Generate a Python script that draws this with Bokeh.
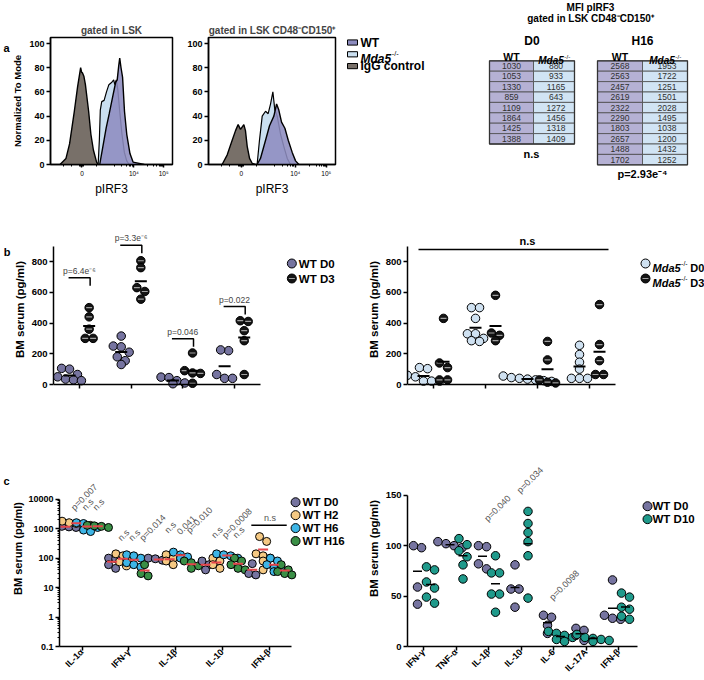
import math
import numpy as np
from bokeh.plotting import figure
from bokeh.layouts import row, column
from bokeh.models import Range1d, FixedTicker, LinearAxis, LogAxis
from bokeh.core.properties import value
from bokeh.embed import file_html
from bokeh.resources import INLINE

FONT = "Liberation Sans"

# ======================= DATA =======================
# (a) pIRF3 histograms: x = display channel, y = % of mode
hist_ticks = [264, 700, 950]
hist_tick_labels = ["0", "10⁴", "10⁵"]
hist_series = ["WT", "Mda5-/-", "IgG control"]

lsk_igg_x = [80, 130, 160, 200, 227, 248, 253, 262, 267, 280, 293, 320, 339, 360, 387, 400]
lsk_igg_y = [0, 5, 17, 44, 64, 77, 80, 76, 76, 73, 66, 44, 25, 12, 2, 0]
lsk_mda5_x = [400, 410, 418, 430, 450, 470, 490, 515, 530, 540, 552, 565, 580, 600, 620, 640, 660]
lsk_mda5_y = [0, 20, 45, 52, 53, 60, 66, 68, 70, 66, 70, 62, 45, 25, 10, 3, 0]
lsk_wt_x = [413, 440, 467, 493, 520, 547, 560, 573, 581, 592, 605, 621, 640, 667, 693, 787]
lsk_wt_y = [0, 15, 30, 42, 55, 68, 70, 82, 88, 80, 72, 44, 25, 9, 2, 0]

hsc_igg_x = [110, 151, 191, 218, 239, 258, 285, 298, 312, 331, 352, 379]
hsc_igg_y = [0, 8, 20, 28, 33, 29, 33, 28, 15, 5, 1, 0]
hsc_mda5_x = [392, 411, 433, 460, 481, 500, 519, 535, 554, 581, 607, 635, 661]
hsc_mda5_y = [0, 20, 40, 44, 42, 50, 60, 45, 40, 25, 15, 5, 0]
hsc_wt_x = [392, 419, 460, 492, 527, 549, 567, 589, 616, 643, 675, 702, 729]
hsc_wt_y = [0, 5, 20, 32, 40, 50, 45, 35, 30, 20, 10, 3, 0]

# MFI pIRF3 table
mfi_d0_wt = [1030, 1053, 1330, 859, 1109, 1864, 1425, 1388]
mfi_d0_mda5 = [880, 933, 1165, 643, 1272, 1456, 1318, 1409]
mfi_h16_wt = [2568, 2563, 2457, 2619, 2322, 2290, 1803, 2657, 1488, 1702]
mfi_h16_mda5 = [1953, 1722, 1251, 1501, 2028, 1495, 1038, 1200, 1432, 1252]

# (b) BM serum (pg/ml)
b_cats = ["IL-23", "IL-1a", "IL-10", "IL-27"]
b_wt_series = ["WT D0", "WT D3"]
b_wt_d0 = [[105, 100, 65, 50, 35, 30, 25], [315, 250, 245, 210, 180, 155, 130],
           [48, 45, 25, 10, 5], [220, 225, 40, 40, 65]]
b_wt_d3 = [[500, 440, 360, 300, 300], [805, 760, 630, 605, 555],
           [205, 90, 72, 75, 8], [415, 410, 350, 285, 65]]
b_wt_pvals = ["p=6.4e⁻⁶", "p=3.3e⁻⁶", "p=0.046", "p=0.022"]
b_mda5_series = ["D0", "D3"]
b_mda5_d0 = [[110, 103, 60, 50, 22, 22, 22], [500, 500, 430, 330, 330, 300, 285, 280],
             [55, 45, 40, 35, 30, 25, 20], [255, 195, 145, 100, 40, 40, 40]]
b_mda5_d3 = [[430, 140, 110, 30, 30], [580, 335, 320, 285],
             [280, 160, 30, 15, 10], [520, 260, 155, 65, 65]]

# (c) left: time course (log scale)
c1_cats = ["IL-1α", "IFN-γ", "IL-1β", "IL-10", "IFN-β"]
c1_series = ["WT D0", "WT H2", "WT H6", "WT H16"]
c1_d0 = [[1250, 1150, 1100, 1200], [100, 95, 60, 45], [100, 95, 85, 80], [80, 60, 40], [65, 30, 27]]
c1_h2 = [[1400, 1600, 1800, 1500, 1300], [140, 120, 90, 75, 55], [130, 100, 80, 60],
         [100, 80, 60, 45], [540, 370, 140, 120, 100, 80, 40]]
c1_h6 = [[1600, 1500, 1200, 1100, 900, 800], [130, 120, 100, 70, 60, 50], [160, 130, 110, 100],
         [140, 130, 120, 100], [100, 80, 60, 45, 40, 35]]
c1_h16 = [[1300, 1250, 1200, 1100], [60, 30, 25], [80, 70, 55, 45], [100, 80, 60, 45, 40],
          [60, 40, 35, 30, 27]]
c1_pvals = [["p=0.007", "n.s", "n.s"], ["n.s", "n.s", "p=0.014"],
            ["n.s", "0.041", "p=0.010"], ["n.s", "p=0.0008", "n.s"]]
c1_last_label = "n.s"

# (c) right: D0 vs D10
c2_cats = ["IFN-γ", "TNF-α", "IL-1β", "IL-10", "IL-6", "IL-17A", "IFN-β"]
c2_series = ["WT D0", "WT D10"]
c2_d0 = [[98, 100, 59, 42], [102, 104, 98, 100], [100, 99, 82, 77], [81, 57, 57, 39],
         [31, 29, 21, 13], [18, 16, 11, 6], [66, 31, 27, 28]]
c2_d10 = [[79, 76, 64, 58, 49, 43], [107, 101, 95, 89, 81, 67], [90, 73, 73, 52, 52, 34],
          [134, 122, 113, 104, 90, 48], [15, 13, 11, 9, 7, 5], [12, 9, 8, 7, 6, 5],
          [53, 49, 39, 37, 30, 27]]
c2_pval_cats = [2, 3, 4]
c2_pvals = ["p=0.040", "p=0.034", "p=0.0098"]

# annotation heights (positions of brackets / p-value labels)
b_bracket_levels = [695, 905, 297, 507]
b_ns_level = 878
c1_plevels = [3600, 330, 600, 410]
c1_bracket_level = 1320
c2_plevels = [122, 150, 44]

# ======================= STYLE =======================
C_D0 = "#7674a0"
C_D3 = "#141414"
C_MDA_D0 = "#cfe1f1"
C_H2 = "#f5c983"
C_H6 = "#3db5e6"
C_H16 = "#3a8f46"
C_D10 = "#1f9a8b"
C_RED = "#e6454b"
HIST_WT = "#8d8cbf"
HIST_MDA = "#cadff0"
HIST_IGG = "#787069"
TAB_WT = "#b5b1d4"
TAB_MDA = "#d1e4f4"
TXT = dict(text_font=value(FONT))


def base_fig(W, H, xr, yr, ml, mr, mt, mb, y_type="linear", title=None):
    p = figure(width=W, height=H, x_range=xr, y_range=yr, y_axis_type=y_type,
               output_backend="svg", toolbar_location=None, title=title,
               min_border_left=ml, min_border_right=mr, min_border_top=mt, min_border_bottom=mb)
    p.grid.visible = False
    p.outline_line_color = None
    for ax in p.axis:
        ax.axis_line_color = "black"
        ax.axis_line_width = 1.5
        ax.major_tick_line_color = "black"
        ax.major_tick_line_width = 1.5
        ax.major_tick_out = 4
        ax.major_tick_in = 0
        ax.minor_tick_line_color = None
        ax.major_label_text_font = FONT
        ax.major_label_text_font_style = "bold"
        ax.major_label_text_font_size = "9.5px"
        ax.major_label_text_color = "black"
        ax.major_label_standoff = 2
        ax.axis_label_text_font = FONT
        ax.axis_label_text_font_style = "bold"
        ax.axis_label_text_color = "black"
        ax.axis_label_text_font_size = "11.5px"
        ax.axis_label_standoff = 3
    return p


def letter(p, txt, yv, log=False):
    """Panel letter drawn as an outer left axis with a single labelled tick."""
    yv = round(yv, 3)
    cls = LogAxis if log else LinearAxis
    ax = cls(ticker=FixedTicker(ticks=[yv]), major_label_overrides={yv: txt})
    ax.axis_line_color = None
    ax.major_tick_line_color = None
    ax.minor_tick_line_color = None
    ax.major_tick_out = 0
    ax.major_tick_in = 0
    ax.minor_tick_out = 0
    ax.major_label_standoff = 0
    ax.major_label_text_font = FONT
    ax.major_label_text_font_size = "11px"
    ax.major_label_text_font_style = "bold"
    ax.major_label_text_color = "black"
    p.add_layout(ax, "left")


def swarm(vals, ypx, d, gap=0.95, tol=0.75):
    ys = [ypx(v) for v in vals]
    order = sorted(range(len(vals)), key=lambda k: -ys[k])
    bins = []
    for k in order:
        if bins and abs(ys[bins[-1][0]] - ys[k]) < tol * d:
            bins[-1].append(k)
        else:
            bins.append([k])
    offs = [0.0] * len(vals)
    for b in bins:
        n = len(b)
        for j, k in enumerate(b):
            offs[k] = (j - (n - 1) / 2.0) * d * gap
    return offs


def draw_points(p, cx, vals, color, sx, ypx, d, stripe=False, gap=0.95):
    offs = swarm(vals, ypx, d, gap)
    xs = [cx + o / sx for o in offs]
    p.scatter(xs, vals, size=d, fill_color=color, line_color="black", line_width=1)
    if stripe:
        p.scatter(xs, vals, marker="dash", size=d * 0.7, line_color="#a0a0a0", line_width=1.2)
    return (cx, float(np.mean(vals)))


def draw_means(p, means, size, color, lw):
    p.scatter([m[0] for m in means], [m[1] for m in means], marker="dash", size=size,
              line_color=color, line_width=lw)


def mda5_text(p, x, y, size, suffix="", center=False, xo=0.0, yo=0.0, color="black"):
    sup = round(size * 0.62, 1)
    w1 = 2.556 * size
    w2 = 0.944 * sup
    gapw = 0.3 * size if suffix else 0.0
    w3 = sum(0.722 if c.isupper() else 0.556 for c in suffix) * size
    start = xo - ((w1 + w2 + gapw + w3) / 2.0 if center else 0.0)
    common = dict(text_font=value(FONT), text_baseline="alphabetic", text_align="left",
                  text_color=color)
    p.text([x], [y], text=["Mda5"], x_offset=start, y_offset=yo,
           text_font_size=f"{size}px", text_font_style="bold italic", **common)
    p.text([x], [y], text=["-/-"], x_offset=start + w1 + 0.5, y_offset=yo - size * 0.4,
           text_font_size=f"{sup}px", text_font_style="normal", **common)
    if suffix:
        p.text([x], [y], text=[suffix], x_offset=start + w1 + w2 + gapw, y_offset=yo,
               text_font_size=f"{size}px", text_font_style="bold", **common)


# ======================= (a) histograms =======================
hist_minor = [107, 173, 240, 250, 258, 272, 280, 387, 533, 600, 640, 660, 675, 687,
              813, 867, 893, 912, 925, 935, 943]
R1_H = 200


def hist_fig(W, ml, mr, title, ylabel, igg, mda, wt):
    p = base_fig(W, R1_H, Range1d(0, 1024), Range1d(0, 105), ml, mr, 37, R1_H - 164, title=title)
    p.title.align = "center"
    p.title.text_font = FONT
    p.title.text_font_size = "10px"
    p.title.text_font_style = "bold"
    p.title.standoff = 3
    p.outline_line_color = "black"
    p.outline_line_width = 1.5
    xa, ya = p.xaxis[0], p.yaxis[0]
    xa.ticker = FixedTicker(ticks=hist_ticks, minor_ticks=hist_minor)
    xa.major_label_overrides = dict(zip(hist_ticks, hist_tick_labels))
    xa.major_label_text_font_size = "6.5px"
    xa.major_label_text_font_style = "normal"
    xa.major_tick_out = 3
    xa.minor_tick_line_color = "black"
    xa.minor_tick_out = 2
    xa.minor_tick_in = 0
    xa.axis_label = "pIRF3"
    xa.axis_label_text_font_size = "12px"
    xa.axis_label_text_font_style = "normal"
    xa.axis_label_standoff = 2
    ya.ticker = FixedTicker(ticks=[0, 20, 40, 60, 80, 100])
    ya.major_label_text_font_size = "9px"
    if ylabel:
        ya.axis_label = ylabel
        ya.axis_label_text_font_size = "9.5px"
        ya.axis_label_standoff = 3
    p.varea(x=igg[0], y1=0, y2=igg[1], fill_color=HIST_IGG)
    p.line(igg[0], igg[1], line_color="black", line_width=1.4)
    p.varea(x=mda[0], y1=0, y2=mda[1], fill_color=HIST_MDA)
    p.line(mda[0], mda[1], line_color="black", line_width=1.2)
    p.varea(x=wt[0], y1=0, y2=wt[1], fill_color=HIST_WT, fill_alpha=0.88)
    p.line(wt[0], wt[1], line_color="black", line_width=1.4)
    return p


h1 = hist_fig(180, 45, 8, "gated in LSK", "Normalized To Mode",
              (lsk_igg_x, lsk_igg_y), (lsk_mda5_x, lsk_mda5_y), (lsk_wt_x, lsk_wt_y))
letter(h1, "a", 105 * (164 - 47) / 127)
h2 = hist_fig(158, 28, 3, "gated in LSK CD48⁻CD150⁺", None,
              (hsc_igg_x, hsc_igg_y), (hsc_mda5_x, hsc_mda5_y), (hsc_wt_x, hsc_wt_y))

# ---- legend + table (pixel space) ----
pt = figure(width=366, height=R1_H, x_range=Range1d(338, 704), y_range=Range1d(R1_H, 0),
            output_backend="svg", toolbar_location=None, title=None,
            x_axis_location=None, y_axis_location=None, min_border=0)
pt.grid.visible = False
pt.outline_line_color = None

leg_cols = [HIST_WT, HIST_MDA, HIST_IGG]
for k, (lab, col) in enumerate(zip(hist_series, leg_cols)):
    yy = 42 + 11.8 * k
    pt.quad(left=347, right=357, top=yy - 2.6, bottom=yy + 2.6, fill_color=col,
            line_color="black", line_width=1)
    if lab.startswith("Mda5"):
        mda5_text(pt, 360, yy + 4.2, 12)
    else:
        pt.text([360], [yy], text=[lab], text_baseline="middle", text_align="left",
                text_font_size="12px", text_font_style="bold", **TXT)

pt.text([590], [6.5], text=["MFI pIRF3"], text_align="center", text_baseline="middle",
        text_font_size="10px", text_font_style="bold", **TXT)
pt.text([590], [18], text=["gated in LSK CD48⁻CD150⁺"], text_align="center",
        text_baseline="middle", text_font_size="10px", text_font_style="bold", **TXT)


def mfi_table(p, left, mid, right, top, rh, wt, mda, title):
    n = len(wt)
    tops = [top + k * rh for k in range(n)]
    bots = [t + rh for t in tops]
    p.quad(left=left, right=mid, top=tops, bottom=bots, fill_color=TAB_WT,
           line_color="#4a4a4a", line_width=0.8)
    p.quad(left=mid, right=right, top=tops, bottom=bots, fill_color=TAB_MDA,
           line_color="#4a4a4a", line_width=0.8)
    p.quad(left=left, right=right, top=top, bottom=top + n * rh, fill_color=None,
           line_color="#333333", line_width=1.3)
    ys = [t + rh / 2 for t in tops]
    p.text([(left + mid) / 2] * n, ys, text=[str(v) for v in wt], text_align="center",
           text_baseline="middle", text_font_size="8.5px", text_color="#303030", **TXT)
    p.text([(mid + right) / 2 + 2] * n, ys, text=[str(v) for v in mda], text_align="center",
           text_baseline="middle", text_font_size="8.5px", text_color="#303030", **TXT)
    p.text([(left + right) / 2], [top - 20], text=[title], text_align="center",
           text_baseline="middle", text_font_size="12px", text_font_style="bold", **TXT)
    p.text([(left + mid) / 2], [top - 4], text=["WT"], text_align="center",
           text_baseline="middle", text_font_size="10.5px", text_font_style="bold", **TXT)
    mda5_text(p, (mid + right) / 2, top - 0.5, 10, center=True)
    return top + n * rh


bot0 = mfi_table(pt, 489, 533, 574, 60.3, 10.4, mfi_d0_wt, mfi_d0_mda5, "D0")
bot1 = mfi_table(pt, 597, 642, 687, 60.3, 10.4, mfi_h16_wt, mfi_h16_mda5, "H16")
pt.text([531], [bot0 + 10], text=["n.s"], text_align="center", text_baseline="middle",
        text_font_size="11px", text_font_style="bold", **TXT)
pt.text([642], [bot1 + 9], text=["p=2.93e⁻⁴"], text_align="center", text_baseline="middle",
        text_font_size="11px", text_font_style="bold", **TXT)

# ======================= (b) =======================
BY = 123 / 800.0
R2_TOP = 200
B_H = 216
B_MT = 228 - R2_TOP
B_MB = R2_TOP + B_H - 390
B_FH = B_H - B_MT - B_MB
B_Y0 = -6 / BY


def b_fig(W, ml, sx, d0, d3, d0_color):
    fw = W - ml
    p = base_fig(W, B_H, Range1d(0.5, 0.5 + fw / sx), Range1d(B_Y0, B_Y0 + B_FH / BY),
                 ml, 0, B_MT, B_MB)
    xa, ya = p.xaxis[0], p.yaxis[0]
    n = len(b_cats)
    xa.ticker = FixedTicker(ticks=list(range(1, n + 1)))
    xa.major_label_overrides = {i + 1: c for i, c in enumerate(b_cats)}
    xa.bounds = (0.5, n + 0.5)
    xa.fixed_location = 0
    xa.major_label_text_font_size = "10px"
    ya.ticker = FixedTicker(ticks=[0, 200, 400, 600, 800])
    ya.bounds = (0, 900)
    ya.axis_label = "BM serum (pg/ml)"
    ypx = lambda v: v * BY
    means = []
    for i in range(n):
        c = i + 1
        means.append(draw_points(p, c - 10 / sx, d0[i], d0_color, sx, ypx, 8.5))
        means.append(draw_points(p, c + 10 / sx, d3[i], C_D3, sx, ypx, 8.5, stripe=True))
    draw_means(p, means, 12, "black", 2)
    return p


BXL = 52.7
bl = b_fig(360, 47, BXL, b_wt_d0, b_wt_d3, C_D0)
letter(bl, "b", (384 - 252) / BY)
for i, (lev, lab) in enumerate(zip(b_bracket_levels, b_wt_pvals)):
    c = i + 1
    xl, xr = c - 11 / BXL, c + 11 / BXL
    bl.line([xl, xr, xr], [lev, lev, lev - 8 / BY], line_color="black", line_width=1.5)
    bl.text([c], [lev], text=[lab], text_align="center", text_baseline="bottom", y_offset=-2,
            text_font_size="8.5px", text_color="#444444", **TXT)
lx = 0.5 + (290 - 47) / BXL
for k, (lab, col) in enumerate(zip(b_wt_series, [C_D0, C_D3])):
    ly = (384 - (263 + 15 * k)) / BY
    bl.scatter([lx], [ly], size=9, fill_color=col, line_color="black", line_width=1)
    if k == 1:
        bl.scatter([lx], [ly], marker="dash", size=6, line_color="#a0a0a0", line_width=1.2)
    bl.text([lx], [ly], text=[lab], x_offset=7, text_baseline="middle", text_align="left",
            text_font_size="11.5px", text_font_style="bold", **TXT)

BXR = 52.0
br = b_fig(344, 47, BXR, b_mda5_d0, b_mda5_d3, C_MDA_D0)
br.line([0.5 + (418 - 407) / BXR, 0.5 + (608 - 407) / BXR], [b_ns_level, b_ns_level],
        line_color="black", line_width=1.5)
br.text([0.5 + (527 - 407) / BXR], [b_ns_level], text=["n.s"], text_align="center",
        text_baseline="bottom", y_offset=-3, text_font_size="11px", text_font_style="bold", **TXT)
lx = 0.5 + (645 - 407) / BXR
for k, (suf, col) in enumerate(zip(b_mda5_series, [C_MDA_D0, C_D3])):
    ly = (384 - (263 + 15 * k)) / BY
    br.scatter([lx], [ly], size=9, fill_color=col, line_color="black", line_width=1)
    if k == 1:
        br.scatter([lx], [ly], marker="dash", size=6, line_color="#a0a0a0", line_width=1.2)
    mda5_text(br, lx, ly, 11, suffix=suf, xo=7, yo=4)

# ======================= (c) =======================
R3_TOP = R2_TOP + B_H
C_H = 680 - R3_TOP
C_MT = 450 - R3_TOP
C_MB = 680 - 647
C_FH = C_H - C_MT - C_MB

# left (log)
CLX = 47.5
CL_ML = 54
CL_X0 = 77
CL_DEC = 29.6
cl_xs = (CL_ML - CL_X0) / CLX
cl = base_fig(360, C_H, Range1d(cl_xs, cl_xs + (360 - CL_ML) / CLX),
              Range1d(0.1, 0.1 * 10 ** (C_FH / CL_DEC)), CL_ML, 0, C_MT, C_MB, y_type="log")
xa, ya = cl.xaxis[0], cl.yaxis[0]
xa.ticker = FixedTicker(ticks=list(range(len(c1_cats))))
xa.major_label_overrides = {i: c for i, c in enumerate(c1_cats)}
xa.bounds = (cl_xs, len(c1_cats) - 1 - cl_xs)
xa.major_label_orientation = math.pi / 4
xa.major_label_text_font_size = "9px"
xa.major_label_standoff = 0
log_major = [0.1, 1, 10, 100, 1000, 10000]
log_labels = ["0.1", "1", "10", "100", "1000", "10000"]
ya.ticker = FixedTicker(ticks=log_major,
                        minor_ticks=[k * 10.0 ** e for e in range(-1, 4) for k in range(2, 10)])
ya.major_label_overrides = dict(zip(log_major, log_labels))
ya.major_label_text_font_size = "9px"
ya.minor_tick_line_color = "black"
ya.minor_tick_out = 2
ya.minor_tick_in = 0
ya.bounds = (0.1, 10000)
ya.axis_label = "BM serum (pg/ml)"
ya.axis_label_text_font_size = "11px"
ya.axis_label_standoff = 1
cl_off = [-17, -6, 5, 16]
cl_cols = [C_D0, C_H2, C_H6, C_H16]
cl_data = [c1_d0, c1_h2, c1_h6, c1_h16]
ypx_log = lambda v: math.log10(v) * CL_DEC
means = []
for i in range(len(c1_cats)):
    for s in range(4):
        means.append(draw_points(cl, i + cl_off[s] / CLX, cl_data[s][i], cl_cols[s], CLX,
                                 ypx_log, 8, gap=0.9))
draw_means(cl, means, 10, C_RED, 2)
for i, labs in enumerate(c1_pvals):
    for s, lab in enumerate(labs, start=1):
        cl.text([i + cl_off[s] / CLX], [c1_plevels[i]], text=[lab], angle=math.pi / 4,
                text_align="left", text_baseline="bottom", text_font_size="9px",
                text_color="#555555", **TXT)
last = len(c1_cats) - 1
cl.line([last + (cl_off[0] - 1) / CLX, last + (cl_off[3] + 2) / CLX],
        [c1_bracket_level, c1_bracket_level], line_color="black", line_width=1.5)
cl.text([last + 1 / CLX], [c1_bracket_level], text=[c1_last_label], text_align="center",
        text_baseline="bottom", y_offset=-2, text_font_size="9px", text_color="#555555", **TXT)
lx = (294 - CL_X0) / CLX
for k, (lab, col) in enumerate(zip(c1_series, cl_cols)):
    ly = 10 ** (-1 + (647 - (502 + 13 * k)) / CL_DEC)
    cl.scatter([lx], [ly], size=9, fill_color=col, line_color="black", line_width=1)
    cl.text([lx], [ly], text=[lab], x_offset=7, text_baseline="middle", text_align="left",
            text_font_size="11.5px", text_font_style="bold", **TXT)
letter(cl, "c", 10 ** (-1 + (647 - 481) / CL_DEC), log=True)

# right (linear)
CRX = 32.5
CR_X0 = 423
CRY = 152 / 150.0
cr_xs = (407 - CR_X0) / CRX
cr = base_fig(344, C_H, Range1d(cr_xs, cr_xs + (344 - 47) / CRX), Range1d(0, C_FH / CRY),
              47, 0, C_MT, C_MB)
xa, ya = cr.xaxis[0], cr.yaxis[0]
xa.ticker = FixedTicker(ticks=list(range(len(c2_cats))))
xa.major_label_overrides = {i: c for i, c in enumerate(c2_cats)}
xa.bounds = (cr_xs, (637 - CR_X0) / CRX)
xa.major_label_orientation = math.pi / 4
xa.major_label_text_font_size = "9px"
xa.major_label_standoff = 0
ya.ticker = FixedTicker(ticks=[0, 50, 100, 150])
ya.bounds = (0, 150)
ya.axis_label = "BM serum (pg/ml)"
ypx_lin = lambda v: v * CRY
means = []
for i in range(len(c2_cats)):
    means.append(draw_points(cr, i - 6 / CRX, c2_d0[i], C_D0, CRX, ypx_lin, 8.5))
    means.append(draw_points(cr, i + 7 / CRX, c2_d10[i], C_D10, CRX, ypx_lin, 8.5))
draw_means(cr, means, 9, "black", 1.5)
for ci, lab, lev in zip(c2_pval_cats, c2_pvals, c2_plevels):
    cr.text([ci + 1 / CRX], [lev], text=[lab], angle=math.pi / 4, text_align="left",
            text_baseline="bottom", text_font_size="9px", text_color="#555555", **TXT)
lx = (647 - CR_X0) / CRX
for k, (lab, col) in enumerate(zip(c2_series, [C_D0, C_D10])):
    ly = (647 - (506 + 13 * k)) / CRY
    cr.scatter([lx], [ly], size=9, fill_color=col, line_color="black", line_width=1)
    cr.text([lx], [ly], text=[lab], x_offset=5, text_baseline="middle", text_align="left",
            text_font_size="11.5px", text_font_style="bold", **TXT)

layout = column(row(row(h1, h2), column(pt)), row(bl, br), row(cl, cr))
open("out.html", "w").write(file_html(layout, INLINE, title="Figure"))
